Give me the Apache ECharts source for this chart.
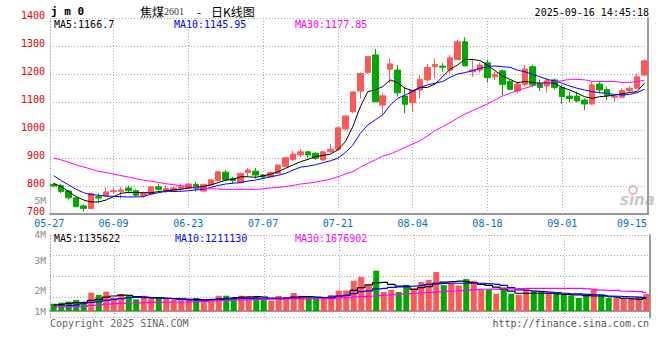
<!DOCTYPE html>
<html><head><meta charset="utf-8">
<script src="https://cdn.jsdelivr.net/npm/echarts@6/dist/echarts.min.js"></script>
<style>html,body{margin:0;padding:0;background:#fff}#c{width:660px;height:360px}</style>
</head><body><div id="c"></div>
<script>
// ---- data ----
const dates = [
 '05-27','05-28','05-29','05-30','06-03','06-04','06-05','06-06','06-09','06-10',
 '06-11','06-12','06-13','06-16','06-17','06-18','06-19','06-20','06-23','06-24',
 '06-25','06-26','06-27','06-30','07-01','07-02','07-03','07-04','07-07','07-08',
 '07-09','07-10','07-11','07-14','07-15','07-16','07-17','07-18','07-21','07-22',
 '07-23','07-24','07-25','07-28','07-29','07-30','07-31','08-01','08-04','08-05',
 '08-06','08-07','08-08','08-11','08-12','08-13','08-14','08-15','08-18','08-19',
 '08-20','08-21','08-22','08-25','08-26','08-27','08-28','08-29','09-01','09-02',
 '09-03','09-04','09-05','09-08','09-09','09-10','09-11','09-12','09-15','09-16'];
const open = [
 805,801,782,757,729,719,762,764,780,781,
 793,783,766,771,797,786,780,791,792,806,
 782,804,819,849,827,812,848,853,839,833,
 845,869,895,911,922,917,893,922,931,1004,
 1065,1139,1205,1268,1089,1217,1214,1121,1098,1143,
 1179,1226,1228,1214,1252,1315,1208,1214,1240,1190,
 1211,1173,1139,1163,1226,1167,1157,1179,1152,1121,
 1121,1107,1093,1164,1145,1117,1117,1141,1149,1196];
const close = [
 800,780,758,726,720,773,757,779,783,786,
 783,767,774,797,788,791,793,797,807,792,
 806,822,851,822,819,845,857,839,833,848,
 875,901,914,922,911,899,922,931,1008,1050,
 1136,1202,1262,1101,1122,1236,1133,1092,1140,1181,
 1223,1234,1224,1258,1315,1229,1214,1232,1187,1199,
 1163,1145,1164,1218,1161,1152,1176,1152,1119,1112,
 1104,1093,1161,1143,1123,1121,1141,1149,1190,1247];
const low = [
 795,774,752,725,708,719,741,762,772,755,
 774,762,758,766,780,774,778,783,790,780,
 777,801,817,816,810,810,833,827,825,830,
 843,867,890,902,899,893,890,919,927,1000,
 1060,1113,1200,1100,1054,1167,1119,1060,1065,1113,
 1173,1184,1208,1202,1250,1229,1190,1205,1169,1178,
 1125,1143,1131,1155,1155,1139,1133,1145,1093,1098,
 1098,1071,1090,1131,1107,1101,1113,1133,1145,1193];
const high = [
 810,809,785,760,735,773,774,795,795,797,
 802,788,780,800,809,802,800,809,810,814,
 808,824,853,857,833,848,865,865,843,852,
 877,903,926,931,926,921,925,950,1010,1052,
 1138,1205,1264,1289,1133,1256,1232,1152,1145,1196,
 1236,1256,1240,1268,1321,1331,1256,1240,1252,1208,
 1217,1179,1173,1232,1232,1179,1184,1184,1161,1137,
 1137,1113,1173,1173,1155,1125,1149,1157,1202,1252];
const ma5 = [
 809.5,797.6,779.7,761.9,750,743,743,750,762,774,
 777,777,776,776,780,783,786,788,793,795,
 798,804,812,821,824,833,833,831,836,842,
 851,863,875,887,895,905,909,914,929,958,
 1012,1083,1137,1143,1155,1179,1169,1149,1140,1152,
 1152,1164,1190,1217,1232,1252,1252,1248,1232,1212,
 1193,1181,1169,1173,1170,1167,1169,1167,1152,1143,
 1131,1119,1113,1119,1121,1125,1129,1134,1137,1166.7];
const ma10 = [
 837,819,804,788,776,769,767,764,763,762,
 761,761,762,771,776,781,781,781,783,786,
 788,795,802,807,810,812,818,821,827,833,
 838,845,857,867,871,876,883,890,899,919,
 946,988,1018,1036,1054,1089,1113,1125,1137,1152,
 1161,1167,1173,1188,1200,1205,1212,1220,1226,1229,
 1226,1224,1214,1208,1199,1190,1181,1175,1167,1157,
 1149,1143,1137,1133,1131,1127,1125,1127,1133,1145.95];
const ma30 = [
 900,893,884.5,875,868,860,852,848,843,837,
 832,826,821,817,813,808,805,801,798,794,
 792,790,789,788,788,788,788,788,790,793,
 795,798,802,807,810,814,819,824,833,843,
 851,867,881,893,907,914,926,938,950,962,
 979,998,1012,1026,1042,1057,1069,1081,1093,1107,
 1121,1131,1141,1149,1157,1164,1169,1173,1176,1181,
 1181,1179,1174,1173,1173,1173,1170,1170,1173,1177.85];
// volume in millions of lots
const volume = [
 0.66,0.75,0.84,0.99,0.75,1.65,1.44,1.74,1.2,1.53,
 1.35,1.05,1.38,1.14,1.23,1.14,0.99,0.93,0.99,1.17,
 0.99,0.99,1.38,1.38,1.17,1.38,1.25,1.26,1.05,0.93,
 1.36,1.26,1.63,1.36,1.23,1.1,1.12,1.45,1.83,1.83,
 2.73,3.06,2.31,3.63,1.71,1.9,1.71,2.35,2.05,2.61,
 2.79,3.51,2.33,2.52,2.3,2.88,2.72,1.95,1.92,1.56,
 2.13,1.56,1.47,2.07,1.83,1.83,1.68,1.62,1.56,1.38,
 1.17,1.38,1.92,1.53,1.17,1.17,1.17,1.08,1.32,1.53];
const volMa5 = [
 0.55,0.6,0.68,0.75,0.78,0.95,1.05,1.25,1.35,1.43,
 1.4,1.3,1.25,1.2,1.2,1.15,1.12,1.1,1.05,1.05,
 1.0,1.05,1.1,1.15,1.2,1.25,1.28,1.3,1.25,1.15,
 1.12,1.15,1.25,1.3,1.3,1.25,1.2,1.22,1.35,1.4,
 1.85,2.1,2.35,2.55,2.58,2.4,2.25,2.25,1.95,2.1,
 2.2,2.5,2.6,2.65,2.7,2.65,2.55,2.4,2.3,2.15,
 1.95,1.8,1.6,1.6,1.6,1.6,1.6,1.55,1.5,1.45,
 1.45,1.38,1.35,1.35,1.3,1.25,1.15,1.1,1.05,1.135622];
const volMa10 = [
 0.42,0.45,0.5,0.55,0.7,0.78,0.85,0.95,1.05,1.12,
 1.2,1.22,1.2,1.18,1.16,1.14,1.1,1.02,1.0,0.97,
 0.95,1.0,1.05,1.07,1.1,1.12,1.13,1.14,1.15,1.15,
 1.16,1.16,1.17,1.17,1.17,1.18,1.18,1.25,1.33,1.42,
 1.56,1.74,1.82,2.0,2.04,2.12,2.18,2.2,2.25,2.3,
 2.4,2.45,2.49,2.5,2.5,2.5,2.5,2.5,2.45,2.4,
 2.3,2.1,1.9,1.85,1.8,1.75,1.7,1.65,1.6,1.55,
 1.55,1.5,1.45,1.4,1.35,1.33,1.3,1.28,1.23,1.21113];
const volMa30 = [
 0.39,0.4,0.4,0.4,0.42,0.5,0.55,0.62,0.66,0.68,
 0.72,0.74,0.76,0.77,0.78,0.8,0.81,0.81,0.82,0.84,
 0.87,0.9,0.93,0.96,0.99,1.01,1.02,1.04,1.05,1.06,
 1.07,1.08,1.09,1.1,1.11,1.11,1.12,1.14,1.18,1.22,
 1.27,1.3,1.33,1.38,1.42,1.48,1.52,1.56,1.6,1.64,
 1.67,1.72,1.77,1.8,1.84,1.88,1.92,1.96,1.98,1.98,
 1.99,2.0,2.01,2.03,2.04,2.04,2.04,2.04,2.04,2.04,
 2.04,2.0,1.95,1.88,1.86,1.85,1.78,1.77,1.75,1.676902];
const xTickLabels = ['05-27','06-09','06-23','07-07','07-21','08-04','08-18','09-01','09-15'];
const xGridDates = ['06-09','06-23','07-07','07-21','08-04','08-18','09-01'];
const volTickLabels = ['5M','4M','3M','2M','1M'];
const priceLegend = ['MA5:1166.7','MA10:1145.95','MA30:1177.85'];
const volLegend = ['MA5:1135622','MA10:1211130','MA30:1676902'];

// ---- chart ----
const upColor = '#ff5858', downColor = '#00a800';
const mono = '"DejaVu Sans Mono", "Liberation Mono", monospace';
const candle = dates.map((d, i) => [open[i], close[i], low[i], high[i]]);
const volBars = volume.map((v, i) => ({ value: v, itemStyle: { color: close[i] >= open[i] ? upColor : downColor } }));
const dotted = { color: '#a8a8a8', type: [1, 2], width: 1 };
const volMin = -0.585, volMax = 6.847;
const xLabelColor = '#0070c0';

function txt(x, y, text, fill, font, align, lh) {
  const st = { text: text, fill: fill, font: font, align: align || 'left', verticalAlign: 'middle',
               textAlign: align || 'left', textVerticalAlign: 'middle' };
  if (lh) st.lineHeight = lh;
  return { type: 'text', x: x, y: y, silent: true, style: st };
}
const f10 = '10px ' + mono;
const graphics = [
  txt(51, 11, 'j m 0', '#000', 'bold 11px ' + mono),
  txt(140, 11, '焦煤', '#000', '12px "Noto Sans CJK SC"'),
  txt(164, 11, '2601', '#333', '10px "Liberation Serif", serif'),
  txt(197, 11, '-', '#000', '12px "Noto Sans CJK SC"'),
  txt(211, 11, '日K线图', '#000', '12px "Noto Sans CJK SC"'),
  txt(649, 12, '2025-09-16 14:45:18', '#000', f10, 'right'),
  txt(54, 24, priceLegend[0], '#000', f10),
  txt(174, 24, priceLegend[1], '#0000ff', f10),
  txt(295, 24, priceLegend[2], '#ff00ff', f10),
  txt(54, 238.5, volLegend[0], '#000', f10),
  txt(175, 238.5, volLegend[1], '#0000ff', f10),
  txt(295, 238.5, volLegend[2], '#ff00ff', f10),
  txt(50, 323, 'Copyright 2025 SINA.COM', '#666', f10),
  txt(649, 323, 'http://finance.sina.com.cn', '#555', f10, 'right'),
  txt(620, 200, 'sina', '#c8c8c8', 'italic bold 15px "DejaVu Sans", sans-serif'),
  { type: 'circle', shape: { cx: 633, cy: 190, r: 4 }, silent: true, style: { fill: 'none', stroke: '#f2b8b8', lineWidth: 2 } }
];
const volLabelY = [200, 234.5, 260, 290, 311];
volTickLabels.forEach((t, k) => graphics.push(txt(46, volLabelY[k], t, '#888', '9.5px ' + mono, 'right', 8)));

const labelRich = {
  l: { padding: [0, 9, 0, 0], color: xLabelColor, fontFamily: mono, fontSize: 10, lineHeight: 8 },
  r: { padding: [0, 10, 0, 0], color: xLabelColor, fontFamily: mono, fontSize: 10, lineHeight: 8 }
};
function xLabelFmt(v) {
  if (v === xTickLabels[0]) return '{l|' + v + '}';
  if (v === xTickLabels[xTickLabels.length - 1]) return '{r|' + v + '}';
  return v;
}

const chart = echarts.init(document.getElementById('c'), null, { renderer: 'svg', width: 660, height: 360 });
chart.setOption({
  animation: false,
  backgroundColor: '#fff',
  grid: [
    { left: 50, right: 10, top: 18, height: 196 },
    { left: 50, right: 10, top: 235, height: 82.5 }
  ],
  xAxis: [
    { type: 'category', gridIndex: 0, data: dates, boundaryGap: true,
      axisLine: { show: true, lineStyle: { color: '#999', width: 2 } }, axisTick: { show: false },
      axisLabel: { show: true, interval: (i, v) => xTickLabels.includes(v), color: xLabelColor,
                   fontFamily: mono, fontSize: 10, lineHeight: 8, margin: 5,
                   formatter: xLabelFmt, rich: labelRich },
      splitLine: { show: true, interval: (i, v) => xGridDates.includes(v), alignWithLabel: true, lineStyle: dotted } },
    { type: 'category', gridIndex: 1, data: dates, boundaryGap: true,
      axisLine: { show: true, lineStyle: { color: '#999', width: 2 } }, axisTick: { show: false },
      axisLabel: { show: false },
      splitLine: { show: true, interval: (i, v) => xGridDates.includes(v), alignWithLabel: true, lineStyle: dotted } }
  ],
  yAxis: [
    { type: 'value', gridIndex: 0, min: 700, max: 1400, interval: 100,
      axisLine: { show: true, lineStyle: dotted }, axisTick: { show: false },
      axisLabel: { color: '#e00000', fontFamily: mono, fontSize: 10, margin: 5,
                   verticalAlign: 'bottom', lineHeight: 6, formatter: v => String(v) },
      splitLine: { show: true, lineStyle: dotted } },
    { type: 'value', gridIndex: 1, min: volMin, max: volMax, interval: (volMax - volMin) / 4,
      axisLine: { show: true, lineStyle: dotted }, axisTick: { show: false }, axisLabel: { show: false },
      splitLine: { show: true, lineStyle: dotted } },
    { type: 'value', gridIndex: 0, position: 'right', min: 700, max: 1400,
      axisLine: { show: true, lineStyle: { color: '#999', width: 2 } }, axisTick: { show: false },
      axisLabel: { show: false }, splitLine: { show: false } },
    { type: 'value', gridIndex: 1, position: 'right', min: volMin, max: volMax,
      axisLine: { show: true, lineStyle: { color: '#999', width: 2 } }, axisTick: { show: false },
      axisLabel: { show: false }, splitLine: { show: false } }
  ],
  series: [
    { type: 'candlestick', xAxisIndex: 0, yAxisIndex: 0, data: candle, barWidth: 6,
      itemStyle: { color: upColor, color0: downColor, borderColor: upColor, borderColor0: downColor, borderWidth: 1 } },
    { type: 'line', xAxisIndex: 0, yAxisIndex: 0, data: ma5, symbol: 'none', lineStyle: { color: '#000', width: 1 } },
    { type: 'line', xAxisIndex: 0, yAxisIndex: 0, data: ma10, symbol: 'none', lineStyle: { color: '#0000ff', width: 1 } },
    { type: 'line', xAxisIndex: 0, yAxisIndex: 0, data: ma30, symbol: 'none', lineStyle: { color: '#ff00ff', width: 1 } },
    { type: 'bar', xAxisIndex: 1, yAxisIndex: 1, data: volBars, barWidth: 6 },
    { type: 'line', xAxisIndex: 1, yAxisIndex: 1, data: volMa5, symbol: 'none', step: 'middle', lineStyle: { color: '#000', width: 1.2 } },
    { type: 'line', xAxisIndex: 1, yAxisIndex: 1, data: volMa10, symbol: 'none', step: 'middle', lineStyle: { color: '#0000ff', width: 1.2 } },
    { type: 'line', xAxisIndex: 1, yAxisIndex: 1, data: volMa30, symbol: 'none', step: 'middle', lineStyle: { color: '#ff00ff', width: 1.2 } }
  ],
  graphic: graphics
});
</script>
</body></html>
